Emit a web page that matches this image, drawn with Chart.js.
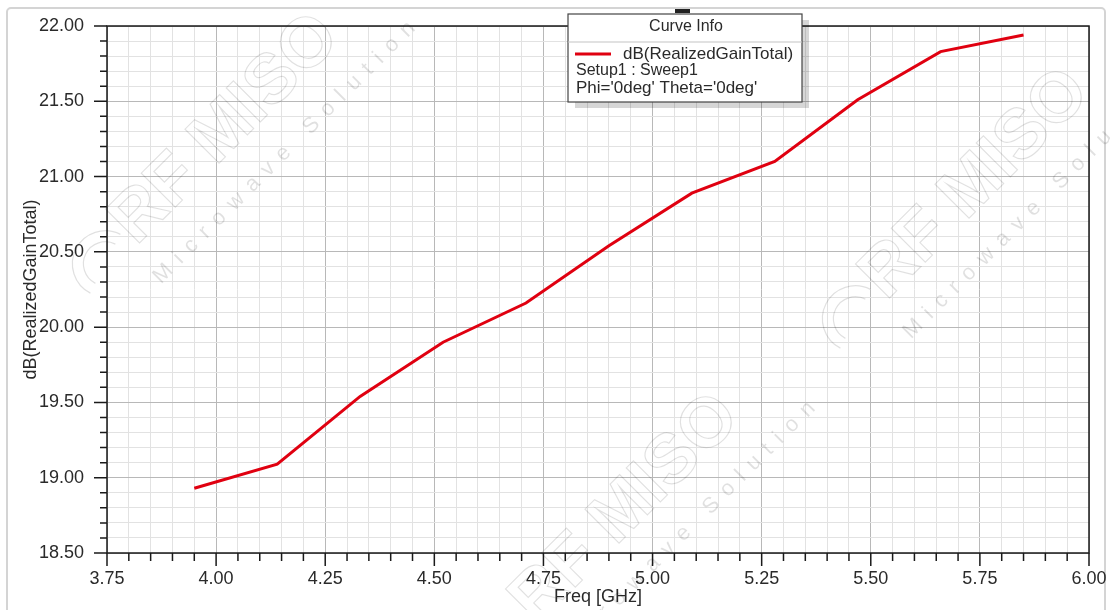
<!DOCTYPE html>
<html>
<head>
<meta charset="utf-8">
<script src="https://cdn.jsdelivr.net/npm/chart.js@4"></script>
<style>
  html, body { margin: 0; padding: 0; background: #fff; }
  #wrap { width: 1110px; height: 610px; position: relative; }
</style>
</head>
<body>
<div id="wrap"><canvas id="gainChart" width="1110" height="610"></canvas></div>
<script>
// Datos
const freqGHz = [3.95, 4.14, 4.33, 4.52, 4.71, 4.90, 5.09, 5.28, 5.47, 5.66, 5.85];
const gainDb = [18.93, 19.09, 19.54, 19.90, 20.16, 20.54, 20.89, 21.10, 21.51, 21.83, 21.94];

const xRange = [3.75, 6.00];
const yRange = [18.5, 22.0];
const xMajor = 0.25, xMinor = 0.05;
const yMajor = 0.5, yMinor = 0.1;

const seriesName = 'dB(RealizedGainTotal)';
const legendTitle = 'Curve Info';
const legendLines = ['Setup1 : Sweep1', "Phi='0deg' Theta='0deg'"];
const xTitle = 'Freq [GHz]';
const yTitle = 'dB(RealizedGainTotal)';

const colors = {
    curve: '#e00010',
    majorGrid: '#b8b8b8',
    minorGrid: '#e2e2e2',
    axis: '#1a1a1a',
    text: '#2a2a2a',
    frame: '#d4d4d4',
    watermark: 'rgba(0,0,0,0.12)'
};
const fontFamily = '"Liberation Sans", Arial, sans-serif';

function isMajor(v, step) {
    const r = v / step;
    return Math.abs(r - Math.round(r)) < 1e-6;
}

// Marco exterior y marca de agua
const backgroundPlugin = {
    id: 'background',
    beforeDraw(chart) {
        const c = chart.ctx;
        c.save();
        c.fillStyle = '#fff';
        c.fillRect(0, 0, chart.width, chart.height);
        c.strokeStyle = colors.frame;
        c.lineWidth = 2;
        c.beginPath();
        c.roundRect(7, 8, 1098, 620, 4);
        c.stroke();
        c.restore();
    },
    afterDatasetsDraw(chart) {
        const c = chart.ctx;
        const marks = [[215, 140], [965, 195], [615, 520]];
        c.save();
        c.strokeStyle = colors.watermark;
        c.fillStyle = colors.watermark;
        c.lineWidth = 1.2;
        marks.forEach(([mx, my]) => {
            c.save();
            c.translate(mx, my);
            c.rotate(-Math.PI / 4);
            c.font = 'bold 70px ' + fontFamily;
            c.textAlign = 'center';
            c.textBaseline = 'middle';
            c.strokeText('RF MISO', 15, 0);
            c.font = '22px ' + fontFamily;
            if (c.letterSpacing !== undefined) c.letterSpacing = '10px';
            c.fillText('Microwave Solution', 45, 58);
            c.beginPath();
            c.arc(-165, 10, 22, Math.PI * 0.9, Math.PI * 1.9);
            c.stroke();
            c.beginPath();
            c.arc(-165, 10, 33, Math.PI * 0.9, Math.PI * 1.9);
            c.stroke();
            c.restore();
        });
        c.restore();
    }
};

// Marco del área, marcas de los ejes y cuadro de leyenda
const axisPlugin = {
    id: 'axisDecor',
    afterDraw(chart) {
        const c = chart.ctx;
        const a = chart.chartArea;
        const xs = chart.scales.x, ys = chart.scales.y;
        c.save();
        c.strokeStyle = colors.axis;
        c.lineWidth = 1.5;
        c.strokeRect(a.left, a.top, a.right - a.left, a.bottom - a.top);

        c.beginPath();
        xs.ticks.forEach(t => {
            const px = xs.getPixelForValue(t.value);
            const len = isMajor(t.value, xMajor) ? 13 : 8;
            c.moveTo(px, a.bottom);
            c.lineTo(px, a.bottom + len);
        });
        ys.ticks.forEach(t => {
            const py = ys.getPixelForValue(t.value);
            const len = isMajor(t.value, yMajor) ? 13 : 7;
            c.moveTo(a.left, py);
            c.lineTo(a.left - len, py);
        });
        c.stroke();

        // cuadro Curve Info
        const bx = 568, by = 14, bw = 234, bh = 88;
        c.fillStyle = 'rgba(0,0,0,0.16)';
        c.fillRect(bx + 7, by + 6, bw, bh);
        c.fillStyle = '#fff';
        c.fillRect(bx, by, bw, bh);
        c.strokeStyle = '#444';
        c.lineWidth = 1.2;
        c.strokeRect(bx, by, bw, bh);
        c.beginPath();
        c.moveTo(bx, by + 28);
        c.lineTo(bx + bw, by + 28);
        c.strokeStyle = '#c4c4c4';
        c.stroke();

        c.fillStyle = '#222';
        c.fillRect(675, 9, 15, 4);

        c.fillStyle = colors.text;
        c.font = '16px ' + fontFamily;
        c.textBaseline = 'middle';
        c.textAlign = 'center';
        c.fillText(legendTitle, bx + bw / 2 + 1, by + 13);
        c.textAlign = 'left';
        c.strokeStyle = colors.curve;
        c.lineWidth = 3;
        c.beginPath();
        c.moveTo(bx + 7, by + 40);
        c.lineTo(bx + 43, by + 40);
        c.stroke();
        c.font = '17px ' + fontFamily;
        c.fillText(seriesName, bx + 55, by + 40);
        c.font = '16px ' + fontFamily;
        c.fillText(legendLines[0], bx + 8, by + 57);
        c.font = '17px ' + fontFamily;
        c.fillText(legendLines[1], bx + 8, by + 74);
        c.restore();
    }
};

new Chart(document.getElementById('gainChart'), {
    type: 'line',
    data: {
        datasets: [{
            label: seriesName,
            data: freqGHz.map((f, i) => ({ x: f, y: gainDb[i] })),
            borderColor: colors.curve,
            borderWidth: 3,
            pointRadius: 0,
            tension: 0,
            fill: false
        }]
    },
    options: {
        responsive: false,
        animation: false,
        events: [],
        layout: {
            padding: { left: 12, top: 26, right: 21, bottom: 0 }
        },
        plugins: {
            legend: { display: false },
            tooltip: { enabled: false }
        },
        scales: {
            x: {
                type: 'linear',
                min: xRange[0],
                max: xRange[1],
                afterFit(scale) {
                    scale.height = 57;
                    scale.paddingLeft = 0;
                    scale.paddingRight = 0;
                },
                ticks: {
                    stepSize: xMinor,
                    autoSkip: false,
                    maxRotation: 0,
                    padding: 15,
                    color: colors.text,
                    font: { family: fontFamily, size: 18 },
                    callback: v => isMajor(v, xMajor) ? v.toFixed(2) : ''
                },
                grid: {
                    drawTicks: false,
                    lineWidth: 1,
                    color: ctx => isMajor(ctx.tick.value, xMajor) ? colors.majorGrid : colors.minorGrid
                },
                border: { display: false },
                title: {
                    display: true,
                    text: xTitle,
                    color: colors.text,
                    font: { family: fontFamily, size: 18 },
                    padding: { top: 0, bottom: 2 }
                }
            },
            y: {
                type: 'linear',
                min: yRange[0],
                max: yRange[1],
                afterFit(scale) {
                    scale.width = 95;
                    scale.paddingTop = 0;
                    scale.paddingBottom = 0;
                },
                ticks: {
                    stepSize: yMinor,
                    autoSkip: false,
                    padding: 23,
                    color: colors.text,
                    font: { family: fontFamily, size: 18 },
                    callback: v => isMajor(v, yMajor) ? v.toFixed(2) : ''
                },
                grid: {
                    drawTicks: false,
                    lineWidth: 1,
                    color: ctx => isMajor(ctx.tick.value, yMajor) ? colors.majorGrid : colors.minorGrid
                },
                border: { display: false },
                title: {
                    display: true,
                    text: yTitle,
                    color: colors.text,
                    font: { family: fontFamily, size: 18 },
                    padding: { top: 8, bottom: 0 }
                }
            }
        }
    },
    plugins: [backgroundPlugin, axisPlugin]
});
</script>
</body>
</html>
